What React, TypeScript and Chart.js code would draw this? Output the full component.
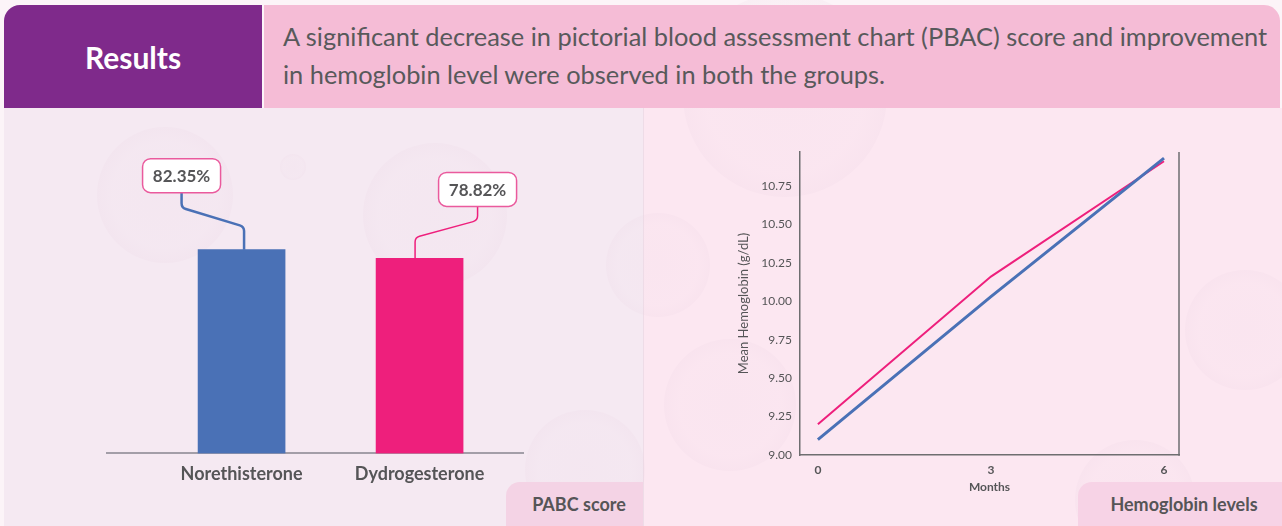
import React, { useEffect, useRef } from "react";
import { Chart, registerables } from "chart.js";

Chart.register(...registerables);

// ---------- data ----------
const barCategories = ["Norethisterone", "Dydrogesterone"];
const pbacReduction = [82.35, 78.82];
const months = [0, 3, 6];
const hbNorethisterone = [9.1, 10.03, 10.93];
const hbDydrogesterone = [9.2, 10.16, 10.91];
const hbTicks = [9.0, 9.25, 9.5, 9.75, 10.0, 10.25, 10.5, 10.75];

// ---------- styles ----------
const BLUE = "#4A71B6";
const PINK = "#EE1F7C";
const GREY_TEXT = "#555557";
const FONT = "Lato, 'Open Sans', sans-serif";

const calloutStyle = [
  { dx: -60, stemDx: 2.5, rise: 23, gap: 57, knee: 15, color: BLUE, width: 2.5 },
  { dx: 58, stemDx: -4.5, rise: 21, gap: 52, knee: 14, color: PINK, width: 1.5 },
];

const calloutPlugin = {
  id: "callouts",
  afterDatasetsDraw(chart: any) {
    const ctx = chart.ctx;
    const meta = chart.getDatasetMeta(0);
    meta.data.forEach((bar: any, i: number) => {
      const st = calloutStyle[i];
      const top = bar.y;
      const sx = bar.x + st.stemDx;
      const bx = bar.x + st.dx;
      const boxBottom = top - st.gap;
      const kneeY = boxBottom + st.knee;
      const r = 6;
      ctx.save();
      ctx.strokeStyle = st.color;
      ctx.lineWidth = st.width;
      ctx.lineJoin = "round";
      ctx.beginPath();
      ctx.moveTo(sx, top);
      ctx.arcTo(sx, top - st.rise, bx, kneeY, r);
      ctx.arcTo(bx, kneeY, bx, boxBottom, r);
      ctx.lineTo(bx, boxBottom);
      ctx.stroke();
      const w = 78;
      const h = 34;
      ctx.beginPath();
      (ctx as any).roundRect(bx - w / 2, boxBottom - h, w, h, 8);
      ctx.fillStyle = "#ffffff";
      ctx.fill();
      ctx.strokeStyle = "#EA5A9D";
      ctx.lineWidth = 1.5;
      ctx.stroke();
      ctx.fillStyle = GREY_TEXT;
      ctx.font = `bold 17px ${FONT}`;
      ctx.textAlign = "center";
      ctx.textBaseline = "middle";
      ctx.fillText(pbacReduction[i].toFixed(2) + "%", bx, boxBottom - h / 2 + 1);
      ctx.restore();
    });
  },
};

const rightBorderPlugin = {
  id: "rightBorder",
  afterDraw(chart: any) {
    const { ctx, chartArea } = chart;
    ctx.save();
    ctx.strokeStyle = "#6E6E70";
    ctx.lineWidth = 1.5;
    ctx.beginPath();
    ctx.moveTo(chartArea.right, chartArea.top);
    ctx.lineTo(chartArea.right, chartArea.bottom + 0.75);
    ctx.stroke();
    ctx.restore();
  },
};

function BarChart() {
  const ref = useRef<HTMLCanvasElement>(null);
  useEffect(() => {
    if (!ref.current) return;
    const positions = barCategories.map((_, i) => i);
    const chart = new Chart(ref.current, {
      type: "bar",
      data: {
        datasets: [
          {
            label: "PBAC score reduction",
            data: positions.map((x, i) => ({ x, y: pbacReduction[i] })) as any,
            backgroundColor: [BLUE, PINK],
            borderWidth: 0,
            barThickness: 87,
          },
        ],
      },
      options: {
        animation: false,
        responsive: false,
        maintainAspectRatio: false,
        layout: { padding: { left: 107, right: 120, top: 98, bottom: 31 } },
        plugins: { legend: { display: false }, tooltip: { enabled: false } },
        scales: {
          x: {
            type: "linear",
            offset: false,
            min: -0.756,
            max: 1.581,
            afterBuildTicks: (s: any) => {
              s.ticks = positions.map((v) => ({ value: v }));
            },
            grid: { display: false, drawTicks: false, offset: false },
            border: { display: true, color: "#A39EA8", width: 2 },
            ticks: {
              autoSkip: false,
              maxRotation: 0,
              padding: 10,
              color: GREY_TEXT,
              font: { family: FONT, size: 18, weight: "bold" },
              callback: (v: any) => barCategories[Number(v)] ?? "",
            },
          },
          y: { display: false, min: 0, max: 100 },
        },
      },
      plugins: [calloutPlugin],
    } as any);
    return () => chart.destroy();
  }, []);
  return (
    <canvas
      ref={ref}
      width={643}
      height={418}
      style={{ position: "absolute", left: 0, top: 108, width: 643, height: 418, display: "block" }}
    />
  );
}

function LineChart() {
  const ref = useRef<HTMLCanvasElement>(null);
  useEffect(() => {
    if (!ref.current) return;
    const chart = new Chart(ref.current, {
      type: "line",
      data: {
        datasets: [
          {
            label: "Norethisterone",
            data: months.map((m, i) => ({ x: m, y: hbNorethisterone[i] })) as any,
            borderColor: BLUE,
            borderWidth: 3,
            pointRadius: 0,
            tension: 0,
          },
          {
            label: "Dydrogesterone",
            data: months.map((m, i) => ({ x: m, y: hbDydrogesterone[i] })) as any,
            borderColor: PINK,
            borderWidth: 2,
            pointRadius: 0,
            tension: 0,
          },
        ],
      },
      options: {
        animation: false,
        responsive: false,
        maintainAspectRatio: false,
        layout: { padding: { left: 92, right: 103, top: 44, bottom: 32 } },
        plugins: { legend: { display: false }, tooltip: { enabled: false } },
        scales: {
          x: {
            type: "linear",
            min: -0.31,
            max: 6.26,
            afterBuildTicks: (s: any) => {
              s.ticks = months.map((v) => ({ value: v }));
            },
            afterFit: (s: any) => {
              s.height = 39;
            },
            grid: { display: false, drawTicks: false },
            border: { display: true, color: "#6E6E70", width: 1.5 },
            ticks: {
              padding: 8,
              color: GREY_TEXT,
              font: { family: FONT, size: 12, weight: "bold" },
              callback: (v: any) => String(v),
            },
            title: {
              display: true,
              text: "Months",
              color: GREY_TEXT,
              font: { family: FONT, size: 12, weight: "bold" },
              padding: { top: 2, bottom: 0 },
            },
          },
          y: {
            type: "linear",
            min: 9,
            max: 10.97,
            afterBuildTicks: (s: any) => {
              s.ticks = hbTicks.map((v) => ({ value: v }));
            },
            afterFit: (s: any) => {
              s.width = 64;
            },
            grid: { display: false, drawTicks: false },
            border: { display: true, color: "#6E6E70", width: 1.5 },
            ticks: {
              padding: 8,
              color: GREY_TEXT,
              font: { family: FONT, size: 12 },
              callback: (v: any) => Number(v).toFixed(2),
            },
            title: {
              display: true,
              text: "Mean Hemoglobin (g/dL)",
              color: GREY_TEXT,
              font: { family: FONT, size: 13 },
              padding: { top: 0, bottom: 0 },
            },
          },
        },
      },
      plugins: [rightBorderPlugin],
    } as any);
    return () => chart.destroy();
  }, []);
  return (
    <canvas
      ref={ref}
      width={638}
      height={418}
      style={{ position: "absolute", left: 644, top: 108, width: 638, height: 418, display: "block" }}
    />
  );
}

const circles = [
  { x: 165, y: 195, r: 68 },
  { x: 435, y: 215, r: 72 },
  { x: 293, y: 167, r: 13 },
  { x: 658, y: 265, r: 52 },
  { x: 785, y: 95, r: 102 },
  { x: 730, y: 405, r: 66 },
  { x: 1245, y: 330, r: 60 },
  { x: 1135, y: 500, r: 60 },
  { x: 585, y: 470, r: 60 },
];

export default function App() {
  return (
    <div
      style={{
        position: "fixed",
        left: 0,
        top: 0,
        width: 1282,
        height: 526,
        overflow: "hidden",
        background: "#FCF4F8",
        fontFamily: FONT,
      }}
    >
      <div style={{ position: "absolute", left: 4, top: 108, width: 639, height: 418, background: "#F5E9F2" }} />
      <div style={{ position: "absolute", left: 643, top: 108, width: 1, height: 418, background: "#EEDCE7" }} />
      <div style={{ position: "absolute", left: 644, top: 108, width: 638, height: 418, background: "#FCE7F1" }} />
      {circles.map((c, i) => (
        <div
          key={i}
          style={{
            position: "absolute",
            left: c.x - c.r,
            top: c.y - c.r,
            width: c.r * 2,
            height: c.r * 2,
            borderRadius: "50%",
            background:
              "radial-gradient(circle, rgba(236,214,228,0.12) 0%, rgba(236,214,228,0.08) 55%, rgba(230,205,222,0.22) 85%, rgba(230,205,222,0.08) 100%)",
          }}
        />
      ))}
      <div
        style={{
          position: "absolute",
          left: 4,
          top: 5,
          width: 258,
          height: 103,
          background: "#7F2A8B",
          borderTopLeftRadius: 16,
          display: "flex",
          alignItems: "center",
          justifyContent: "center",
          color: "#ffffff",
          fontWeight: "bold",
          fontSize: 30,
        }}
      >
        Results
      </div>
      <div
        style={{
          position: "absolute",
          left: 264,
          top: 5,
          width: 1016,
          height: 103,
          background: "#F5BCD6",
          borderTopRightRadius: 16,
        }}
      />
      <div
        style={{
          position: "absolute",
          left: 283,
          top: 17,
          fontSize: 25.4,
          lineHeight: "38px",
          color: "#58595B",
          whiteSpace: "nowrap",
        }}
      >
        A significant decrease in pictorial blood assessment chart (PBAC) score and improvement
        <br />
        in hemoglobin level were observed in both the groups.
      </div>
      <BarChart />
      <LineChart />
      <div
        style={{
          position: "absolute",
          left: 506,
          top: 482,
          width: 137,
          height: 44,
          boxSizing: "border-box",
          paddingLeft: 9,
          background: "#F4D3E5",
          borderTopLeftRadius: 14,
          display: "flex",
          alignItems: "center",
          justifyContent: "center",
          color: GREY_TEXT,
          fontWeight: "bold",
          fontSize: 18,
        }}
      >
        PABC score
      </div>
      <div
        style={{
          position: "absolute",
          left: 1078,
          top: 482,
          width: 204,
          height: 44,
          boxSizing: "border-box",
          paddingLeft: 8,
          background: "#F7D3E6",
          borderTopLeftRadius: 14,
          display: "flex",
          alignItems: "center",
          justifyContent: "center",
          color: GREY_TEXT,
          fontWeight: "bold",
          fontSize: 18,
        }}
      >
        Hemoglobin levels
      </div>
    </div>
  );
}
